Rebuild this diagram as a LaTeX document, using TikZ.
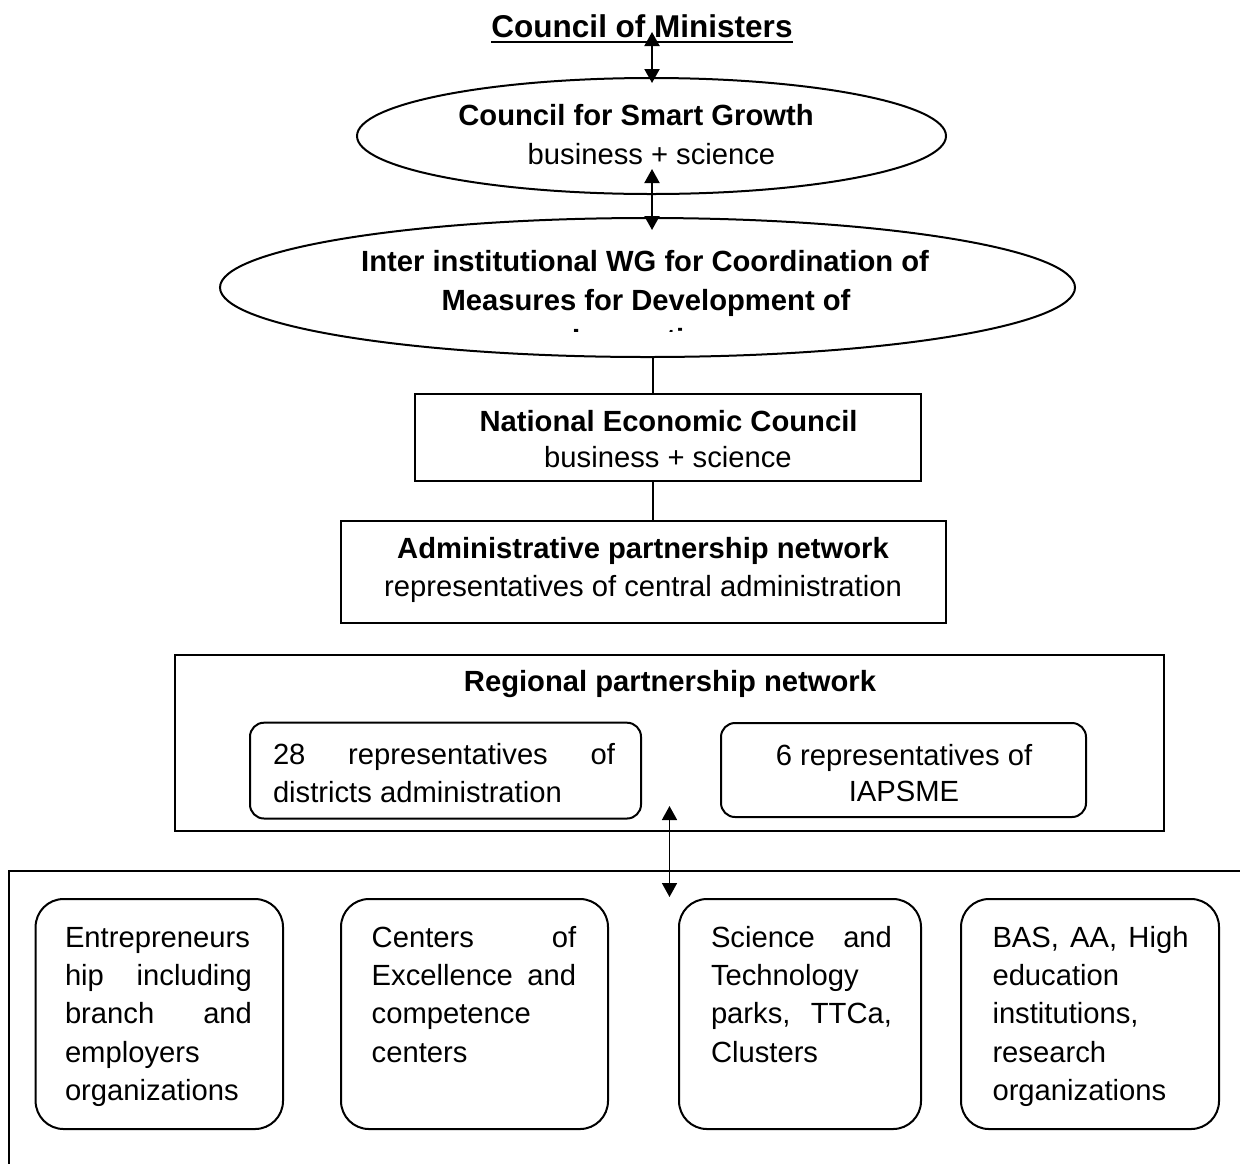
\documentclass[tikz,border=0pt]{standalone}
\usepackage{fontspec}
\setmainfont{Liberation Sans}
\usetikzlibrary{shapes.geometric,arrows.meta}
\newcommand\txtsz{\fontsize{14.6}{19.2}\selectfont}
\newcommand\ttlsz{\fontsize{15.75}{19}\selectfont}
\tikzset{
  box/.style={draw, line width=1pt, inner sep=0pt, outer sep=0pt, rectangle},
  rbox/.style={box, rounded corners=7pt},
  bbox/.style={box, rounded corners=14pt},
  oval/.style={draw, ellipse, line width=1pt, inner sep=0pt, outer sep=0pt},
  lbl/.style={inner sep=0pt, outer sep=0pt, anchor=base, font=\txtsz},
  hd/.style={lbl, font=\txtsz\bfseries},
  para/.style={lbl, anchor=base west},
  dbl/.style={{Triangle[length=7pt,width=7.5pt]}-{Triangle[length=7pt,width=7.5pt]}, line width=1pt},
  conn/.style={line width=1pt}
}
\begin{document}
\begin{tikzpicture}[x=0.5pt,y=-0.5pt]
\useasboundingbox (0,0) rectangle (1240,1163);

% title
\node[hd, font=\ttlsz\bfseries] (com) at (642,37) {Council of Ministers};
\draw[line width=1.2pt] ([yshift=-2.4pt]com.base west) -- ([yshift=-2.4pt]com.base east);

% ellipses
\node[oval, minimum width=294.5pt, minimum height=58pt] (e1) at (651.5,136) {};
\node[hd] (e1a) at (636,125) {Council for Smart Growth};
\node[lbl] (e1b) at (651.5,164) {business + science};

\node[oval, minimum width=427.5pt, minimum height=69.5pt] (e2) at (647.5,287.5) {};
\node[hd] (e2a) at (645,271) {Inter institutional WG for Coordination of};
\node[hd] (e2b) at (646,310) {Measures for Development of};
\begin{scope}
  \clip (500,300) rectangle (800,331);
  \node[hd] (e2c) at (646,349) {Innovation};
\end{scope}

% National Economic Council
\node[box, minimum width=253pt, minimum height=43.5pt] (nec) at (668,437.5) {};
\node[hd] (neca) at (668.5,431) {National Economic Council};
\node[lbl] (necb) at (668,467.5) {business + science};

% Administrative partnership network
\node[box, minimum width=302.35pt, minimum height=51.3pt] (apn) at (643.3,572) {};
\node[hd] (apna) at (643,558) {Administrative partnership network};
\node[lbl] (apnb) at (643,596.7) {representatives of central administration};

% Regional partnership network
\node[box, minimum width=494.25pt, minimum height=88.25pt] (reg) at (669.25,742.75) {};
\node[hd] (rega) at (670,691.7) {Regional partnership network};
\node[rbox, minimum width=195.5pt, minimum height=47.9pt] (r1) at (445.5,770.6) {};
\node[para] (r1t) at (273,764) {\parbox[t]{171pt}{\raggedright 28\hfill representatives\hfill of\\districts administration}};
\node[rbox, minimum width=182.5pt, minimum height=47pt] (r2) at (903.5,770) {};
\node[lbl] (r2a) at (904,765) {6 representatives of};
\node[lbl] (r2b) at (904,801.7) {IAPSME};

% bottom frame
\coordinate (fl) at (9,1180);
\coordinate (ft) at (9,871);
\coordinate (fr) at (1260,871);
\draw[conn] (fl) -- (ft) -- (fr);

% bottom boxes
\node[bbox, minimum width=123.7pt, minimum height=115pt] (ba) at (159.3,1014) {};
\node[para] (bat) at (65,947) {\parbox[t]{93.5pt}{\raggedright Entrepreneurs\\hip\hfill including\\branch\hfill and\\employers\\organizations}};
\node[bbox, minimum width=133.5pt, minimum height=115pt] (bb) at (474.5,1014) {};
\node[para] (bbt) at (371.7,947) {\parbox[t]{102.25pt}{\raggedright Centers\hfill of\\Excellence\hfill and\\competence\\centers}};
\node[bbox, minimum width=121pt, minimum height=115pt] (bc) at (800,1014) {};
\node[para] (bct) at (711,947) {\parbox[t]{90.5pt}{\raggedright Science\hfill and\\Technology\\parks,\hfill TTCa,\\Clusters}};
\node[bbox, minimum width=129pt, minimum height=115pt] (bd) at (1090,1014) {};
\node[para] (bdt) at (992.5,947) {\parbox[t]{98pt}{\raggedright BAS,\hfill AA,\hfill High\\education\\institutions,\\research\\organizations}};

% connectors
\coordinate (cx) at (652.7,0);
\draw[conn] (cx |- e2.south) -- (cx |- nec.north);
\draw[conn] (cx |- nec.south) -- (cx |- apn.north);

\coordinate (a1s) at (652,32);
\coordinate (a1e) at (652,83);
\draw[dbl] (a1s) -- (a1e);
\coordinate (a2s) at (652,169);
\coordinate (a2e) at (652,230);
\draw[dbl] (a2s) -- (a2e);
\coordinate (a3s) at (669.5,806);
\coordinate (a3e) at (669.5,897);
\draw[dbl, line width=0.8pt] (a3s) -- (a3e);
\end{tikzpicture}
\end{document}
